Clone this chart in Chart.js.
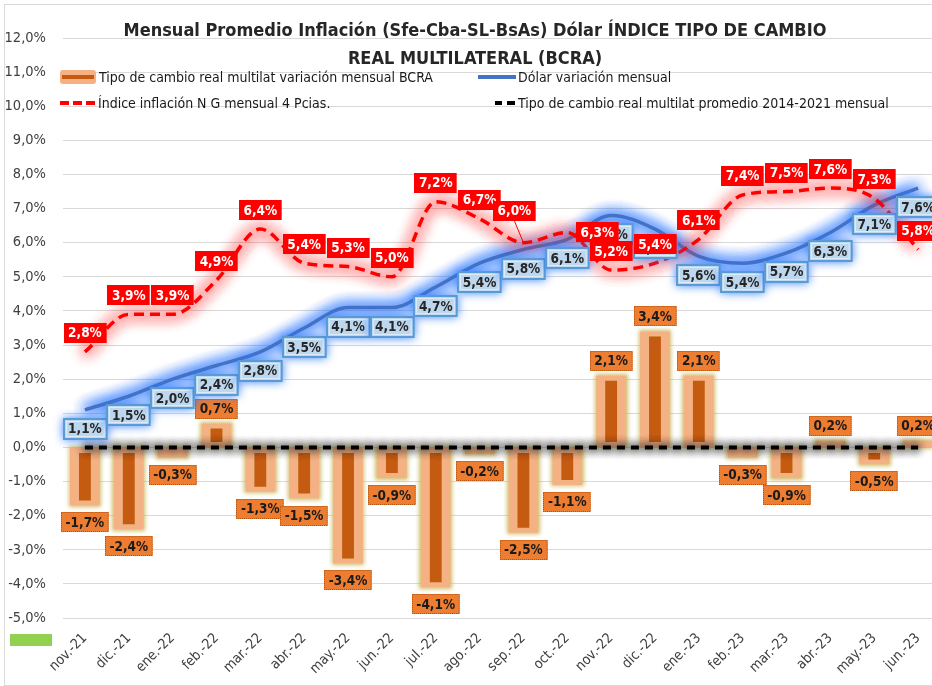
<!DOCTYPE html>
<html>
<head>
<meta charset="utf-8">
<script src="https://cdn.jsdelivr.net/npm/chart.js@4.4.0/dist/chart.umd.min.js"></script>
<style>
  html, body { margin: 0; padding: 0; background: #fff; overflow: hidden; }
  #wrap { position: relative; width: 940px; height: 686px; }
  #frame { position: absolute; left: 4px; top: 4px; width: 940px; height: 680px; border: 1px solid #d9d9d9; }
  canvas { position: absolute; left: 0; top: 0; }
  .t { position: absolute; font-family: 'DejaVu Sans Condensed', 'Liberation Sans Narrow', sans-serif; white-space: nowrap; }
  #title { left: 0; width: 950px; top: 16px; text-align: center; font-weight: bold; font-size: 18px; line-height: 28px; color: #262626; }
  .leg { font-size: 14px; color: #1a1a1a; line-height: 16px; }
  .sw { position: absolute; }
  #green { position: absolute; left: 10px; top: 634px; width: 42px; height: 12px; background: #92d050; }
</style>
</head>
<body>
<div id="wrap">
  <div id="frame"></div>
  <canvas id="mainChart" width="940" height="686"></canvas>
  <div id="title" class="t">Mensual Promedio Inflación (Sfe-Cba-SL-BsAs) Dólar ÍNDICE TIPO DE CAMBIO<br>REAL MULTILATERAL (BCRA)</div>

  <div class="sw" style="left:60px;top:70px;width:36px;height:14px;background:#f4b183;border-radius:3px;"></div>
  <div class="sw" style="left:62px;top:75px;width:32px;height:4px;background:#c55a11;"></div>
  <div class="t leg" style="left:99px;top:69px;">Tipo de cambio real multilat variación mensual BCRA</div>

  <div class="sw" style="left:478px;top:75px;width:38px;height:4px;background:#4472c4;"></div>
  <div class="t leg" style="left:518px;top:69px;">Dólar variación mensual</div>

  <div class="sw" style="left:60px;top:101px;width:9px;height:4px;background:#ff0000;"></div>
  <div class="sw" style="left:73px;top:101px;width:9px;height:4px;background:#ff0000;"></div>
  <div class="sw" style="left:86px;top:101px;width:9px;height:4px;background:#ff0000;"></div>
  <div class="t leg" style="left:98px;top:95px;">Índice inflación N G mensual 4 Pcias.</div>

  <div class="sw" style="left:495px;top:101px;width:7px;height:4px;background:#000;"></div>
  <div class="sw" style="left:507px;top:101px;width:8px;height:4px;background:#000;"></div>
  <div class="t leg" style="left:518px;top:95px;">Tipo de cambio real multilat promedio 2014-2021 mensual</div>

  <div id="green"></div>
</div>
<script>
// Datos mensuales (%)
const months = ['nov.-21', 'dic.-21', 'ene.-22', 'feb.-22', 'mar.-22', 'abr.-22', 'may.-22', 'jun.-22', 'jul.-22', 'ago.-22',
                'sep.-22', 'oct.-22', 'nov.-22', 'dic.-22', 'ene.-23', 'feb.-23', 'mar.-23', 'abr.-23', 'may.-23', 'jun.-23'];
const tcrmVariacion = [-1.7, -2.4, -0.3, 0.7, -1.3, -1.5, -3.4, -0.9, -4.1, -0.2, -2.5, -1.1, 2.1, 3.4, 2.1, -0.3, -0.9, 0.2, -0.5, 0.2];
const dolarVariacion = [1.1, 1.5, 2.0, 2.4, 2.8, 3.5, 4.1, 4.1, 4.7, 5.4, 5.8, 6.1, 6.8, 6.4, 5.6, 5.4, 5.7, 6.3, 7.1, 7.6];
const inflacion = [2.8, 3.9, 3.9, 4.9, 6.4, 5.4, 5.3, 5.0, 7.2, 6.7, 6.0, 6.3, 5.2, 5.4, 6.1, 7.4, 7.5, 7.6, 7.3, 5.8];
const tcrmPromedio = [0.0, 0.0, 0.0, 0.0, 0.0, 0.0, 0.0, 0.0, 0.0, 0.0, 0.0, 0.0, 0.0, 0.0, 0.0, 0.0, 0.0, 0.0, 0.0, 0.0];
const yTicks = [-5, -4, -3, -2, -1, 0, 1, 2, 3, 4, 5, 6, 7, 8, 9, 10, 11, 12];

const FONT = "'DejaVu Sans Condensed', 'Liberation Sans Narrow', sans-serif";
const fmt = v => v.toFixed(1).replace('.', ',') + '%';

// etiquetas de inflación movidas a mano como en el original
const redNudge = { 10: { dx: -9, dy: -32, leader: true }, 11: { dx: 30, dy: 0 } };

// halo difuso detrás de líneas y barras (sombra sin el trazo)
const glowPlugin = {
    id: 'glow',
    beforeDatasetDraw(chart, args) {
        const ds = chart.data.datasets[args.index];
        if (!ds.glowColor) return;
        const ctx = chart.ctx;
        const meta = args.meta;
        ctx.save();
        ctx.translate(-5000, 0);
        ctx.shadowOffsetX = 5000;
        ctx.shadowColor = ds.glowColor;
        ctx.shadowBlur = ds.glowBlur;
        ctx.fillStyle = ds.glowColor;
        for (let i = 0; i < ds.glowPasses; i++) {
            if (meta.type === 'line') {
                meta.dataset.draw(ctx, chart.chartArea);
            } else {
                meta.data.forEach(el => {
                    const { x, y, base, width } = el.getProps(['x', 'y', 'base', 'width'], true);
                    const top = Math.min(y, base), h = Math.abs(base - y);
                    ctx.fillRect(x - width / 2 - 1.5, top - 1.5, width + 3, h + 3);
                });
            }
        }
        ctx.restore();
    }
};

function box(ctx, cx, cy, text, style) {
    ctx.font = 'bold 13.5px ' + FONT;
    const w = ctx.measureText(text).width + 9;
    const h = 20;
    const x = Math.round(cx - w / 2), y = Math.round(cy - h / 2);
    ctx.save();
    if (style === 'red') {
        ctx.fillStyle = '#ff0000';
        ctx.fillRect(x, y, w, h);
        ctx.fillStyle = '#ffffff';
    } else if (style === 'blue') {
        ctx.shadowColor = 'rgba(40,120,255,0.9)';
        ctx.shadowBlur = 10;
        ctx.fillStyle = '#5b9bd5';
        ctx.fillRect(x - 1, y - 1, w + 2, h + 2);
        ctx.shadowBlur = 0;
        ctx.fillStyle = '#bdd7ee';
        ctx.fillRect(x + 1, y + 1, w - 2, h - 2);
        ctx.strokeStyle = '#deebf7';
        ctx.lineWidth = 1;
        ctx.strokeRect(x + 2.5, y + 2.5, w - 5, h - 5);
        ctx.fillStyle = '#262626';
    } else {
        ctx.fillStyle = '#ed7d31';
        ctx.fillRect(x, y, w, h);
        ctx.strokeStyle = '#b4530f';
        ctx.setLineDash([1, 1]);
        ctx.lineWidth = 1;
        ctx.strokeRect(x + 0.5, y + 0.5, w - 1, h - 1);
        ctx.setLineDash([]);
        ctx.fillStyle = '#1a1a1a';
    }
    ctx.textAlign = 'center';
    ctx.textBaseline = 'middle';
    ctx.fillText(text, cx, cy + 1);
    ctx.restore();
    return { x, y, w, h };
}

const labelPlugin = {
    id: 'labels',
    afterDatasetsDraw(chart) {
        const ctx = chart.ctx;
        const bars = chart.getDatasetMeta(0).data;
        bars.forEach((b, i) => {
            const v = tcrmVariacion[i];
            box(ctx, b.x, b.y + (v < 0 ? 17 : -15), fmt(v), 'orange');
        });
        const blue = chart.getDatasetMeta(1).data;
        blue.forEach((p, i) => box(ctx, p.x, p.y + 19, fmt(dolarVariacion[i]), 'blue'));
        const red = chart.getDatasetMeta(2).data;
        red.forEach((p, i) => {
            const n = redNudge[i] || { dx: 0, dy: -19 };
            const r = box(ctx, p.x + n.dx, p.y + n.dy, fmt(inflacion[i]), 'red');
            if (n.leader) {
                ctx.save();
                ctx.strokeStyle = '#ff0000';
                ctx.lineWidth = 1;
                ctx.beginPath();
                ctx.moveTo(p.x + n.dx, r.y + r.h);
                ctx.lineTo(p.x, p.y);
                ctx.stroke();
                ctx.restore();
            }
        });
    }
};

const ctx = document.getElementById('mainChart').getContext('2d');
const mainChart = new Chart(ctx, {
    type: 'bar',
    data: {
        labels: months,
        datasets: [{
            type: 'bar',
            label: 'Tipo de cambio real multilat variación mensual BCRA',
            data: tcrmVariacion,
            backgroundColor: '#c55a11',
            borderColor: '#f4b183',
            borderWidth: { left: 9, right: 9, top: 5, bottom: 5 },
            borderSkipped: false,
            barPercentage: 0.68,
            categoryPercentage: 1,
            glowColor: 'rgba(200,175,70,0.9)',
            glowBlur: 4,
            glowPasses: 1,
            order: 4
        }, {
            type: 'line',
            label: 'Dólar variación mensual',
            data: dolarVariacion,
            borderColor: '#4472c4',
            borderWidth: 3.5,
            pointRadius: 0,
            cubicInterpolationMode: 'monotone',
            glowColor: 'rgba(30,110,255,0.9)',
            glowBlur: 14,
            glowPasses: 4,
            order: 3
        }, {
            type: 'line',
            label: 'Índice inflación N G mensual 4 Pcias.',
            data: inflacion,
            borderColor: '#ff0000',
            borderWidth: 3.5,
            borderDash: [10, 6],
            pointRadius: 0,
            cubicInterpolationMode: 'monotone',
            glowColor: 'rgba(255,40,40,0.8)',
            glowBlur: 15,
            glowPasses: 4,
            order: 1
        }, {
            type: 'line',
            label: 'Tipo de cambio real multilat promedio 2014-2021 mensual',
            data: tcrmPromedio,
            borderColor: '#000000',
            borderWidth: 4,
            borderDash: [8, 6],
            pointRadius: 0,
            glowColor: 'rgba(30,30,30,0.9)',
            glowBlur: 10,
            glowPasses: 3,
            order: 2
        }]
    },
    options: {
        responsive: false,
        animation: false,
        layout: { padding: { top: 38, left: 0, right: 0, bottom: 0 } },
        plugins: {
            legend: { display: false },
            title: { display: false },
            tooltip: { enabled: false }
        },
        scales: {
            x: {
                grid: { display: false },
                border: { display: false },
                ticks: {
                    maxRotation: 45,
                    minRotation: 45,
                    color: '#404040',
                    font: { family: FONT, size: 14 },
                    padding: 4
                },
                afterFit: s => { s.height = 68; }
            },
            y: {
                min: -5,
                max: 12,
                grid: { color: '#d9d9d9', lineWidth: 1, drawTicks: false },
                border: { display: false },
                afterBuildTicks: s => { s.ticks = yTicks.map(v => ({ value: v })); },
                ticks: {
                    color: '#404040',
                    font: { family: FONT, size: 14.5 },
                    padding: 17,
                    callback: v => fmt(v)
                },
                afterFit: s => { s.width = 63; }
            }
        }
    },
    plugins: [glowPlugin, labelPlugin]
});
</script>
</body>
</html>
